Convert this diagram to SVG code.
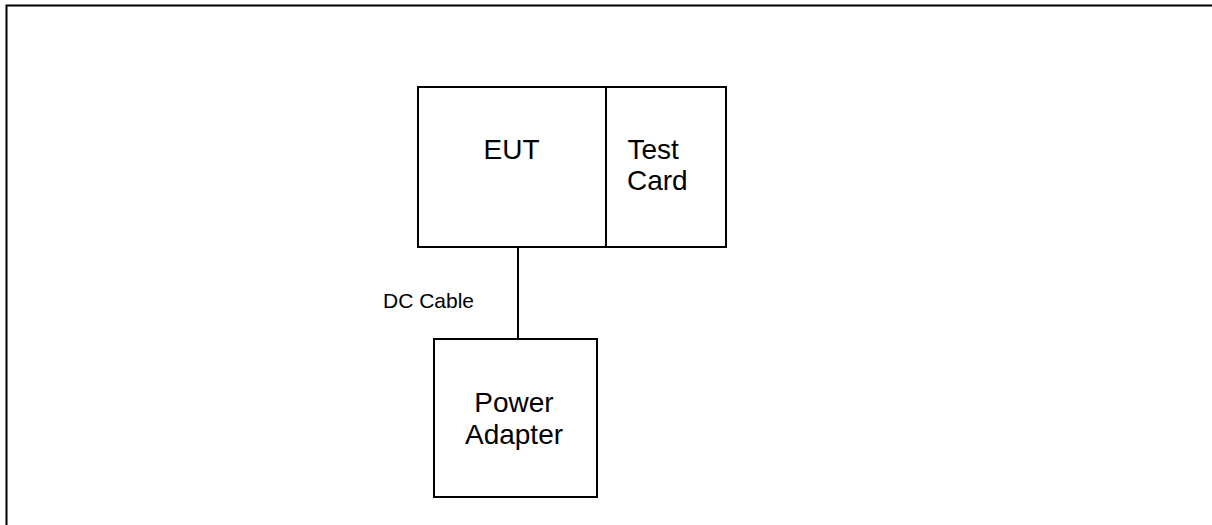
<svg xmlns="http://www.w3.org/2000/svg" width="1212" height="525" viewBox="0 0 1212 525">
<style>
.box{fill:#fff;stroke:#000;stroke-width:2}
.t{font-family:"Liberation Sans",Arial,sans-serif;fill:#000}
.big{font-size:28px}
.small{font-size:21px}
.wire{stroke:#000;stroke-width:2;fill:none}
</style>
<rect x="0" y="0" width="1212" height="525" fill="#fff"/>
<rect id="frame" x="6.5" y="5.5" width="1220" height="530" fill="none" stroke="#000" stroke-width="2"/>
<g id="connectors">
<line class="wire" x1="518" y1="247" x2="518" y2="339"/>
<text class="t small" x="383" y="308">DC Cable</text>
</g>
<g id="eut">
<rect class="box" x="418" y="87" width="188" height="160"/>
<text class="t big" x="511.5" y="158.5" text-anchor="middle">EUT</text>
</g>
<g id="testcard">
<rect class="box" x="606" y="87" width="120" height="160"/>
<text class="t big" x="627.5" y="158.5">Test</text>
<text class="t big" x="627" y="190">Card</text>
</g>
<g id="power">
<rect class="box" x="434" y="339" width="163" height="158"/>
<text class="t big" x="514" y="412" text-anchor="middle">Power</text>
<text class="t big" x="514" y="444" text-anchor="middle">Adapter</text>
</g>
</svg>
